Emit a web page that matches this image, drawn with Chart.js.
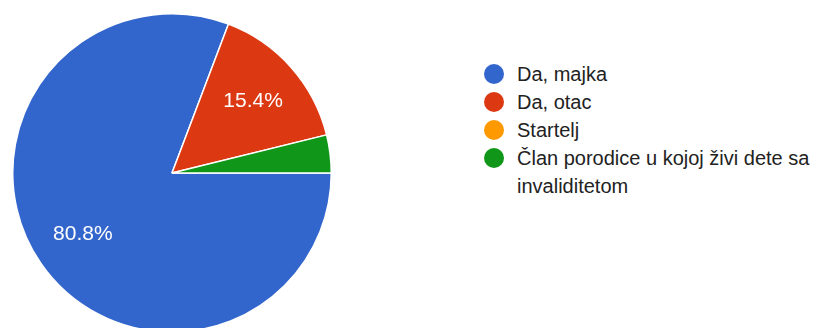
<!DOCTYPE html>
<html>
<head>
<meta charset="utf-8">
<script src="https://cdn.jsdelivr.net/npm/chart.js@4/dist/chart.umd.min.js"></script>
<style>
  html, body { margin: 0; padding: 0; background: #fff; overflow: hidden; }
  body { width: 839px; height: 328px; position: relative; font-family: "Liberation Sans", Arial, sans-serif; }
  #pieBox { position: absolute; left: 12px; top: 13px; width: 320px; height: 320px; }
  #legend { position: absolute; left: 484px; top: 60px; }
  .row { display: flex; align-items: flex-start; font-size: 20px; line-height: 28px; color: #222; }
  .dot { width: 20px; height: 20px; border-radius: 50%; margin: 4px 13px 0 0; flex: none; }
  .txt { width: 310px; }
</style>
</head>
<body>
<div id="pieBox"><canvas id="answers"></canvas></div>
<div id="legend"></div>

<script>
labels = ['Da, majka', 'Da, otac', 'Startelj', 'Član porodice u kojoj živi dete sa invaliditetom'];
counts = [21, 4, 0, 1];
colors = ['#3366cc', '#dc3912', '#ff9900', '#109618'];

// percentage text inside the bigger slices
const sliceLabels = {
  id: 'sliceLabels',
  afterDatasetsDraw(chart) {
    var ctx = chart.ctx;
    var total = counts.reduce((a, b) => a + b, 0);
    var arcs = chart.getDatasetMeta(0).data;
    ctx.save();
    ctx.fillStyle = '#fff';
    ctx.font = '21px "Liberation Sans", Arial, sans-serif';
    ctx.textAlign = 'center';
    ctx.textBaseline = 'middle';
    for (let i = 0; i < arcs.length; i++) {
      var pct = counts[i] / total * 100;
      if (pct < 5) continue;
      var a = arcs[i];
      var mid = (a.startAngle + a.endAngle) / 2;
      var r = a.outerRadius * 0.68;
      ctx.fillText(pct.toFixed(1) + '%', a.x + Math.cos(mid) * r, a.y + Math.sin(mid) * r);
    }
    ctx.restore();
  }
};

var ctx = document.getElementById('answers').getContext('2d');
var answersPie = new Chart(ctx, {
    type: 'pie',
    data: {
        labels: labels,
        datasets: [{
            data: counts,
            backgroundColor: colors,
            borderColor: '#fff',
            borderWidth: 1.5
        }]
    },
    options: {
        responsive: true,
        maintainAspectRatio: false,
        animation: false,
        rotation: 90,
        layout: { padding: 0 },
        plugins: {
            legend: { display: false },
            tooltip: { enabled: false }
        }
    },
    plugins: [sliceLabels]
});

// legend on the right, wraps long labels
var legendEl = document.getElementById('legend');
for (let i = 0; i < labels.length; i++) {
  var row = document.createElement('div');
  row.className = 'row';
  var dot = document.createElement('span');
  dot.className = 'dot';
  dot.style.background = colors[i];
  var txt = document.createElement('span');
  txt.className = 'txt';
  txt.textContent = labels[i];
  row.appendChild(dot);
  row.appendChild(txt);
  legendEl.appendChild(row);
}
</script>
</body>
</html>
